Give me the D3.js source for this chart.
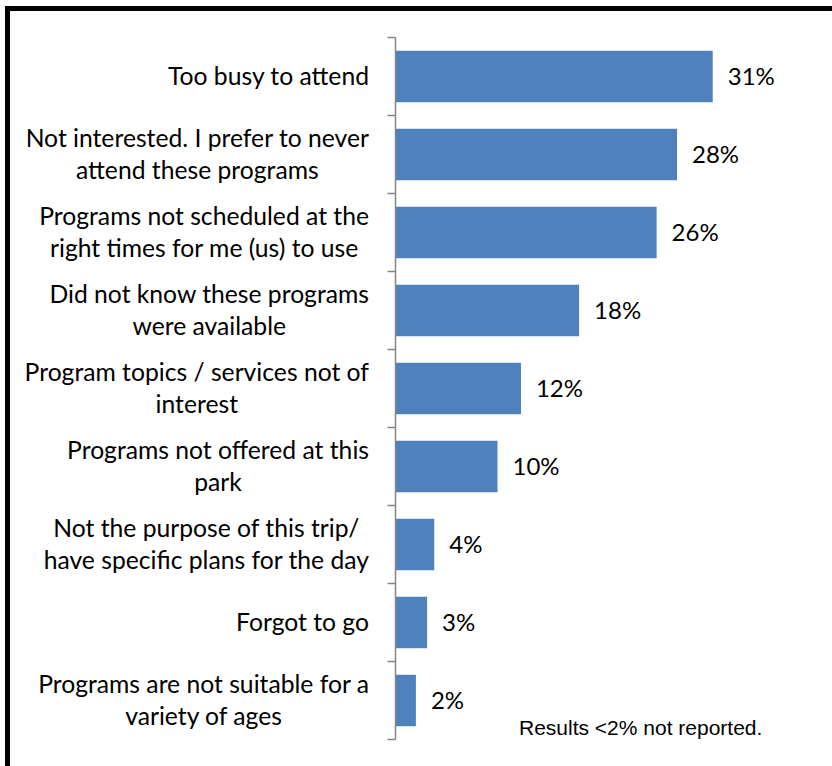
<!DOCTYPE html>
<html><head><meta charset="utf-8">
<script src="https://cdn.jsdelivr.net/npm/d3@7"></script>
<style>html,body{margin:0;padding:0;background:#fff;overflow:hidden}</style>
</head><body>
<script>
const categories = [
  "Too busy to attend",
  "Not interested. I prefer to never\nattend these programs",
  "Programs not scheduled at the\nright times for me (us) to use",
  "Did not know these programs\nwere available",
  "Program topics / services not of\ninterest",
  "Programs not offered at this\npark",
  "Not the purpose of this trip/\nhave specific plans for the day",
  "Forgot to go",
  "Programs are not suitable for a\nvariety of ages"
];
const values = [31.1, 27.6, 25.6, 18.0, 12.3, 10.0, 3.8, 3.1, 2.0];
const valueLabels = ["31%", "28%", "26%", "18%", "12%", "10%", "4%", "3%", "2%"];
const footnote = "Results <2% not reported.";

const W = 832, H = 766;
const svg = d3.select("body").append("svg").attr("width", W).attr("height", H);
svg.append("rect").attr("width", W).attr("height", H).attr("fill", "#fff");
svg.append("rect").attr("x", 7.5).attr("y", 8.5).attr("width", 900).attr("height", 900)
  .attr("fill", "none").attr("stroke", "#000").attr("stroke-width", 5);

const x0 = 395.5;
const x = d3.scaleLinear().domain([0, 35]).range([x0, x0 + 35 * 10.2]);
const y = d3.scaleBand().domain(categories).range([37.5, 739.5]).paddingInner(0.34).paddingOuter(0.17);

const font = "Lato, 'Open Sans', sans-serif";
const fs = 24.7;
const vfs = 24;

// bars
svg.append("g").selectAll("rect").data(values).join("rect")
  .attr("x", x(0)).attr("y", (d, i) => y(categories[i]))
  .attr("width", d => x(d) - x(0)).attr("height", y.bandwidth())
  .attr("fill", "#4F81BD");

// value labels
svg.append("g").selectAll("text").data(values).join("text")
  .attr("x", d => x(d) + 15).attr("y", (d, i) => y(categories[i]) + y.bandwidth() / 2)
  .attr("dy", "0.35em").attr("font-family", font).attr("font-size", vfs).attr("fill", "#000")
  .text((d, i) => valueLabels[i]);

// axis line and ticks
const axisG = svg.append("g");
const step = y.step();
const top0 = 37.5;
axisG.append("line").attr("x1", x0).attr("x2", x0).attr("y1", top0).attr("y2", top0 + step * categories.length)
  .attr("stroke", "#868686").attr("stroke-width", 1.5);
axisG.selectAll("line.t").data(d3.range(categories.length + 1)).join("line").attr("class", "t")
  .attr("x1", x0 - 8).attr("x2", x0).attr("y1", i => top0 + i * step).attr("y2", i => top0 + i * step)
  .attr("stroke", "#868686").attr("stroke-width", 1.5);

// category labels: block right aligned, lines centered
const lineH = 32;
const rightEdge = 369;
categories.forEach((c, i) => {
  const lines = c.split("\n");
  const g = svg.append("g");
  const cy = y(c) + y.bandwidth() / 2;
  const texts = lines.map((l, j) => g.append("text")
    .attr("font-family", font).attr("font-size", fs).attr("fill", "#000")
    .attr("text-anchor", "middle")
    .attr("y", cy + (j - (lines.length - 1) / 2) * lineH).attr("dy", "0.33em").text(l));
  const wmax = d3.max(texts, t => t.node().getComputedTextLength());
  texts.forEach(t => t.attr("x", rightEdge - wmax / 2));
});

svg.append("text").attr("x", 519).attr("y", 735)
  .attr("font-family", "'Liberation Sans', Arial, sans-serif").attr("font-size", 21).attr("fill", "#000")
  .text(footnote);
</script>
</body></html>
